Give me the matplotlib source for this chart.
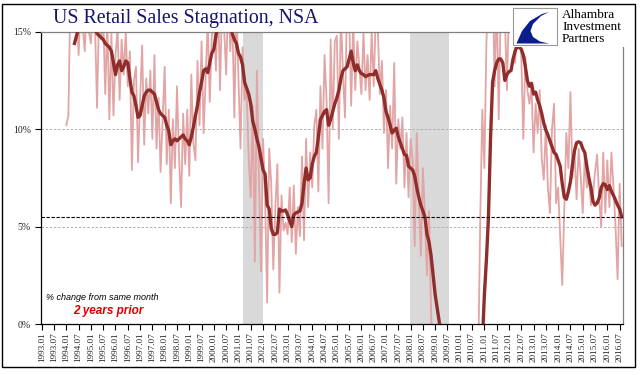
import numpy as np
import matplotlib
matplotlib.use("Agg")
import matplotlib.pyplot as plt
from matplotlib.patches import Rectangle, Polygon

# ---------------- data ----------------
title = "US Retail Sales Stagnation, NSA"
start_year = 1993
n_months = 284  # 1993.01 .. 2016.08
tick_labels = [f"{y}.{m:02d}" for y in range(1993, 2017) for m in (1, 7)][:48]
tick_positions = list(range(0, 6 * len(tick_labels), 6))

# monthly 2-year % change (light line), starting 1994.01 (index 12)
light_start = 12
light_values = [
    10.2, 10.7, 17.0, 16.0, 15.6, 16.5, 13.8, 16.8, 15.2, 14.0, 16.6, 15.0,   # 1994
    14.4, 16.5, 15.3, 11.1, 16.2, 14.6, 15.8, 11.8, 15.6, 10.5, 14.9, 10.7,   # 1995
    13.8, 15.2, 11.5, 14.6, 12.8, 15.0, 12.2, 14.0, 7.9, 12.5, 13.2, 8.3,     # 1996
    11.5, 14.3, 9.2, 12.6, 10.8, 13.0, 9.5, 13.8, 9.0, 11.6, 7.8, 10.5,       # 1997
    13.2, 8.2, 11.0, 6.2, 10.5, 8.0, 12.2, 8.6, 6.0, 10.8, 8.2, 11.0,         # 1998
    7.6, 12.8, 9.3, 8.4, 13.5, 10.2, 14.5, 9.8, 12.6, 15.5, 11.4, 14.8,       # 1999
    15.8, 13.0, 17.0, 12.0, 16.5, 15.2, 12.8, 17.0, 14.0, 15.8, 10.6, 16.5,   # 2000
    12.6, 9.0, 14.2, 11.5, 12.0, 8.5, 6.5, 11.2, 3.2, 13.0, 7.5, 2.7,         # 2001
    9.5, 6.5, 1.1, 9.0, 7.2, 2.8, 6.0, 8.2, 1.6, 6.6, 4.8, 5.2,               # 2002
    4.6, 7.0, 4.2, 7.1, 3.6, 6.0, 4.5, 8.6, 4.3, 9.5, 6.0, 8.8,               # 2003
    7.0, 10.2, 11.0, 6.8, 12.2, 9.0, 13.8, 11.5, 6.2, 14.6, 10.0, 14.5,       # 2004
    14.8, 9.5, 16.0, 12.8, 10.6, 17.0, 16.0, 11.2, 15.5, 12.0, 14.5, 13.2,    # 2005
    11.8, 15.0, 12.0, 13.8, 11.5, 15.0, 12.2, 15.8, 15.2, 11.8, 13.5, 9.8,    # 2006
    12.0, 8.0, 11.2, 9.0, 13.4, 7.2, 10.5, 9.0, 10.6, 7.0, 9.8, 6.5,          # 2007
    9.5, 8.4, 4.0, 9.8, 6.5, 3.5, 8.0, 5.5, 2.5, 5.8, 0.5, -2.0,              # 2008
    -3.5, -6.0, -8.0, -9.0, -10.0, -11.0, -12.0, -12.0, -11.0, -10.0, -9.0, -8.0,  # 2009
    -9.0, -8.0, -7.0, -6.5, -6.0, -5.5, -5.0, -4.0, -3.0, -2.0, 5.5, 11.0,    # 2010
    8.0, 14.5, 17.0, 16.5, 18.0, 12.2, 17.0, 10.5, 16.5, 17.5, 15.8, 12.0,    # 2011
    16.5, 15.5, 17.0, 13.4, 15.2, 16.0, 13.8, 9.5, 13.7, 12.0, 11.3, 12.2,    # 2012
    8.8, 11.3, 9.8, 12.0, 8.5, 7.4, 10.2, 7.0, 5.7, 10.0, 11.3, 6.2,          # 2013
    7.0, 4.5, 2.0, 6.0, 9.8, 8.0, 11.9, 7.5, 8.8, 6.4, 9.0, 7.6,              # 2014
    5.7, 8.6, 7.0, 7.5, 6.1, 6.7, 7.8, 8.7, 6.5, 5.0, 8.8, 5.7,               # 2015
    8.4, 6.0, 8.8, 7.0, 5.0, 2.3, 7.2, 4.0,                                   # 2016
]

# smoothed series (dark line), starting 1994.05 (index 16)
dark_start = 16
dark_values = [
    14.4, 14.8, 15.2, 15.5, 15.8, 16.0, 16.0, 15.9,                           # 1994
    15.7, 15.5, 15.2, 14.9, 14.8, 14.7, 14.6, 14.4, 14.3, 14.2, 14.0, 13.4,   # 1995
    12.8, 13.3, 13.5, 13.0, 13.2, 13.5, 13.4, 12.6, 11.9, 11.7, 11.2, 10.6,   # 1996
    10.7, 11.2, 11.7, 11.9, 12.0, 12.0, 11.9, 11.8, 11.4, 11.0, 10.8, 10.7,   # 1997
    10.6, 10.2, 9.9, 9.2, 9.4, 9.5, 9.4, 9.5, 9.6, 9.7, 9.5, 9.4,             # 1998
    9.2, 9.6, 10.1, 10.7, 11.2, 11.9, 12.4, 13.0, 13.1, 12.9, 13.4, 13.9,     # 1999
    14.1, 14.8, 15.3, 15.7, 16.0, 16.0, 15.8, 15.5, 15.2, 14.9, 14.6, 14.4,   # 2000
    13.9, 13.7, 13.3, 12.4, 12.1, 11.8, 11.3, 10.4, 10.0, 9.5, 9.1, 8.5,      # 2001
    7.9, 7.7, 6.1, 5.9, 4.9, 4.6, 4.6, 4.7, 5.9, 5.8, 5.8, 5.85,              # 2002
    5.6, 5.3, 5.0, 5.6, 5.7, 5.75, 5.8, 6.2, 7.2, 8.0, 7.4, 7.5,              # 2003
    8.2, 8.6, 8.8, 9.6, 10.5, 10.7, 10.9, 11.0, 10.2, 10.5, 10.9, 11.3,       # 2004
    11.6, 12.0, 12.6, 13.0, 13.1, 13.2, 13.6, 14.0, 13.4, 13.0, 13.3, 13.0,   # 2005
    12.85, 12.8, 12.7, 12.75, 12.8, 12.8, 12.8, 13.0, 12.6, 12.3, 12.0, 11.6, # 2006
    10.9, 10.6, 10.2, 9.8, 9.95, 10.05, 9.6, 9.3, 9.0, 8.7, 8.65, 8.1,        # 2007
    8.0, 7.9, 7.6, 7.0, 6.5, 6.1, 5.8, 5.5, 4.6, 4.2, 3.5, 2.5,               # 2008
    1.5, 0.8, 0.1, -1.5, -3.0, -4.5, -5.5, -6.5, -7.0, -7.5, -7.8, -8.0,      # 2009
    -8.0, -7.8, -7.5, -7.0, -6.5, -6.0, -5.5, -5.0, -4.5, -3.5, -2.5, -1.0,   # 2010
    1.5, 3.3, 5.5, 9.5, 12.4, 13.0, 13.4, 13.6, 13.6, 13.4, 12.5, 12.8,       # 2011
    12.95, 13.0, 13.6, 14.0, 14.25, 14.2, 14.1, 13.8, 13.2, 12.5, 12.2, 12.35,# 2012
    11.8, 11.9, 11.5, 11.2, 10.8, 10.3, 9.95, 9.7, 9.4, 9.1, 8.8, 8.7,        # 2013
    8.4, 8.1, 7.2, 6.5, 6.4, 6.8, 7.3, 8.2, 8.9, 9.3, 9.35, 9.3,              # 2014
    9.0, 8.8, 8.1, 7.5, 7.0, 6.3, 6.1, 6.2, 6.45, 7.0, 7.2, 7.15,             # 2015
    6.9, 7.1, 6.8, 6.6, 6.35, 6.1, 5.9, 5.5,                                  # 2016
]

reference_level = 5.5
recessions = [(98, 108), (179.5, 198.5)]
y_ticks = [0, 5, 10, 15]
y_tick_labels = ["0%", "5%", "10%", "15%"]
note_line1 = "% change from same month"
note_line2 = "2 years prior"
logo_lines = ["Alhambra", "Investment", "Partners"]

# ---------------- figure ----------------
W, H = 641, 375
fig = plt.figure(figsize=(W / 100, H / 100), dpi=100)
fig.patch.set_facecolor("white")

def fx(px):
    return px / W

def fy(py):
    return 1 - py / H

ax = fig.add_axes([fx(40.7), fy(324), fx(622.7) - fx(40.7), fy(31.7) - fy(324)])

for a, b in recessions:
    ax.axvspan(a, b, color="#d9d9d9", lw=0, zorder=0)

for yv in (5, 10):
    ax.axhline(yv, color="#a6a6a6", lw=0.6, ls=(0, (3, 2)), zorder=1)

lx = np.arange(light_start, light_start + len(light_values))
dxs = np.arange(dark_start, dark_start + len(dark_values))
ax.plot(lx, light_values, color="#e2a4a4", lw=1.3, zorder=2, solid_joinstyle="round")
ax.plot(dxs, dark_values, color="#8f2d2b", lw=2.4, zorder=3, solid_joinstyle="round")
ax.axhline(reference_level, color="black", lw=0.8, ls=(0, (3, 1.5)), zorder=4)

ax.set_xlim(-0.5, n_months - 0.5)
ax.set_ylim(0, 15)
ax.set_yticks(y_ticks)
ax.set_yticklabels(y_tick_labels, fontsize=7, family="Liberation Serif", color="#222222")
ax.set_xticks(tick_positions)
ax.set_xticklabels(tick_labels, rotation=90, fontsize=6.6, family="Liberation Serif", color="#222222")
ax.tick_params(axis="x", direction="out", length=4, width=0.8, pad=2)
ax.tick_params(axis="y", direction="out", length=4, width=0.8, pad=3)
for s in ("left", "bottom"):
    ax.spines[s].set_color("black")
    ax.spines[s].set_linewidth(0.9)
for s in ("top", "right"):
    ax.spines[s].set_color("#808080")
    ax.spines[s].set_linewidth(0.9)

# notes
fig.text(fx(46), fy(297), note_line1, fontsize=6.5, style="italic", family="Liberation Sans",
         color="black", va="center", ha="left")
fig.text(fx(73), fy(311), note_line2, fontsize=8.5, style="italic", weight="bold",
         family="Liberation Sans", color="#e00000", va="center", ha="left")

# title
fig.text(fx(53), fy(19), title, fontsize=14.3, family="Liberation Serif", color="#14146e",
         va="center", ha="left")

# logo area (white backing)
fig.add_artist(Rectangle((fx(510), fy(47)), fx(634) - fx(510), fy(5) - fy(47),
                         transform=fig.transFigure, facecolor="white", edgecolor="none", zorder=5))
fig.add_artist(Rectangle((fx(513.3), fy(45)), fx(556.7) - fx(513.3), fy(8.3) - fy(45),
                         transform=fig.transFigure, facecolor="white", edgecolor="#9a9a9a",
                         lw=0.8, zorder=6))
sw = [(556, 10), (542, 14), (530, 21), (522, 31), (516.5, 43.5),
      (549, 43.5), (540, 41.5), (533, 37), (530.5, 31), (533, 24), (541, 16), (549, 12)]
fig.add_artist(Polygon([(fx(x), fy(y)) for x, y in sw], closed=True, transform=fig.transFigure,
                       facecolor="#0b1c8c", edgecolor="none", zorder=7))
for k, t in enumerate(logo_lines):
    fig.text(fx(562), fy(15 + 12 * k), t, fontsize=9.5, family="Liberation Serif",
             color="black", va="center", ha="left", zorder=8)

# outer frame
fig.add_artist(Rectangle((fx(2), fy(367)), fx(635) - fx(2), fy(4) - fy(367),
                         transform=fig.transFigure, facecolor="none", edgecolor="black",
                         lw=1.0, zorder=10))

fig.savefig("out.png", dpi=100, facecolor="white")
